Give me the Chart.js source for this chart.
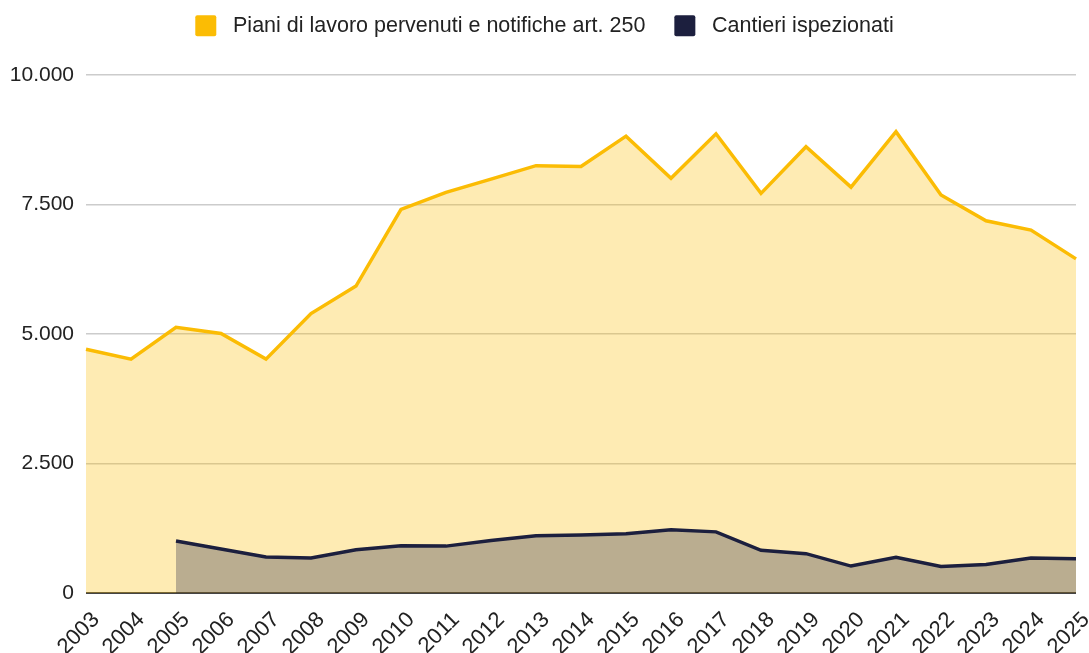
<!DOCTYPE html>
<html>
<head>
<meta charset="utf-8">
<script src="https://cdn.jsdelivr.net/npm/chart.js@4"></script>
<style>
  body { margin: 0; background: #fff; }
  #chart { display: block; }
</style>
</head>
<body>
<canvas id="chart" width="1089" height="653"></canvas>
<script>
const years = ["2003", "2004", "2005", "2006", "2007", "2008", "2009", "2010", "2011", "2012", "2013", "2014",
  "2015", "2016", "2017", "2018", "2019", "2020", "2021", "2022", "2023", "2024", "2025"];
const piani = [4705, 4515, 5130, 5010, 4515, 5395, 5925, 7405, 7735, 7990, 8250, 8235,
  8820, 8005, 8865, 7715, 8615, 7835, 8905, 7685, 7185, 7005, 6450];
const cantieri = [null, null, 1005, 850, 695, 675, 835, 910, 905, 1015, 1105, 1120,
  1145, 1220, 1180, 825, 760, 520, 690, 510, 550, 675, 660];
const yTicks = [0, 2500, 5000, 7500, 10000];

const yellow = "#fbbc04";
const navy = "#1c1f3e";
const font = "'Liberation Sans', Arial, sans-serif";

function fmt(v) {
  return String(v).replace(/\B(?=(\d{3})+(?!\d))/g, ".");
}

// extra room under the legend
const legendMargin = {
  id: "legendMargin",
  beforeInit(chart) {
    const fit = chart.legend.fit;
    chart.legend.fit = function () {
      fit.call(this);
      this.height = 89;
    };
  }
};

let ctx = document.getElementById("chart").getContext("2d");

const chart = new Chart(ctx, {
  type: "line",
  data: {
    labels: years,
    datasets: [
      {
        label: "Piani di lavoro pervenuti e notifiche art. 250",
        data: piani,
        borderColor: yellow,
        backgroundColor: "rgba(251, 188, 4, 0.3)",
        borderWidth: 3.5,
        fill: "origin",
        pointRadius: 0,
        tension: 0,
        order: 1
      },
      {
        label: "Cantieri ispezionati",
        data: cantieri,
        borderColor: navy,
        backgroundColor: "rgba(28, 31, 62, 0.3)",
        borderWidth: 3.5,
        fill: "origin",
        pointRadius: 0,
        tension: 0,
        order: 0
      }
    ]
  },
  plugins: [legendMargin],
  options: {
    responsive: false,
    animation: false,
    layout: { padding: { top: -14, right: 0, left: 0, bottom: 0 } },
    plugins: {
      tooltip: { enabled: false },
      legend: {
        position: "top",
        labels: {
          font: { family: font, size: 21.5 },
          color: "#222",
          boxWidth: 21,
          boxHeight: 21,
          padding: 29,
          useBorderRadius: true,
          borderRadius: 2,
          sort: (a, b) => a.datasetIndex - b.datasetIndex,
          generateLabels: chart => {
            const items = Chart.defaults.plugins.legend.labels.generateLabels(chart);
            items.forEach(it => {
              it.fillStyle = it.strokeStyle;
              it.lineWidth = 0;
              it.text = " " + it.text;
            });
            return items;
          }
        }
      }
    },
    scales: {
      x: {
        grid: { display: false },
        border: { display: false },
        ticks: {
          font: { family: font, size: 22 },
          color: "#222",
          maxRotation: 45,
          minRotation: 45,
          autoSkip: false,
          padding: 6,
          labelOffset: 10
        },
        afterFit: scale => {
          scale.height = 60;
          scale.paddingRight = 13;
          scale.paddingLeft = 0;
        }
      },
      y: {
        min: 0,
        max: 10000,
        afterBuildTicks: scale => {
          scale.ticks = yTicks.map(v => ({ value: v }));
        },
        grid: {
          color: c => (c.tick && c.tick.value === 0 ? "#444" : "#cccccc"),
          lineWidth: c => (c.tick && c.tick.value === 0 ? 2 : 1.5),
          drawTicks: false
        },
        border: { display: false },
        ticks: {
          font: { family: font, size: 21 },
          color: "#222",
          padding: 12,
          callback: v => fmt(v)
        },
        afterFit: scale => { scale.width = 86; }
      }
    }
  }
});
</script>
</body>
</html>
